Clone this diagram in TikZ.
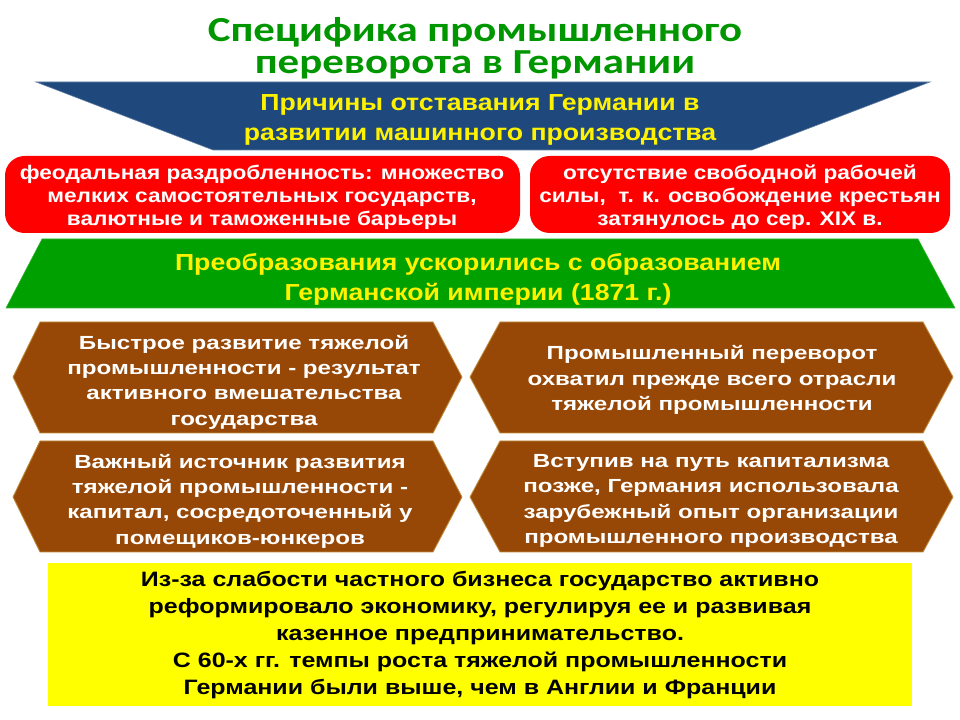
\documentclass[tikz,border=0pt]{standalone}
\usepackage{fontspec}
\setmainfont{Liberation Sans}
\newfontfamily\titlefont[FakeStretch=1.22]{Carlito}
\newfontfamily\bandfont[FakeStretch=1.15]{Liberation Sans}
\newfontfamily\notefont[FakeStretch=1.2]{Liberation Sans}
\newfontfamily\hexfont[FakeStretch=1.27]{Liberation Sans}
\usepackage{xcolor}

\definecolor{titlegreen}{RGB}{0,150,0}
\definecolor{bandblue}{RGB}{31,73,125}
\definecolor{bandgreen}{RGB}{0,160,0}
\definecolor{boxred}{RGB}{255,0,0}
\definecolor{hexbrown}{RGB}{152,72,6}
\definecolor{hexedge}{RGB}{190,140,60}
\definecolor{noteyellow}{RGB}{255,255,0}

\tikzset{
	bandtext/.style={text=yellow,align=center,font=\bandfont\bfseries\fontsize{16.5}{21.3}\selectfont},
	redtext/.style={text=white,align=center,font=\bandfont\bfseries\fontsize{14}{16.3}\selectfont},
	hextext/.style={text=white,align=center,font=\hexfont\bfseries\fontsize{13.5}{18}\selectfont},
	hexshape/.style={fill=hexbrown,draw=hexedge,line width=0.6pt},
}

\begin{document}
\begin{tikzpicture}[x=0.025cm,y=-0.025cm]
	\useasboundingbox (0,0) rectangle (960,720);
	\fill[white] (0,0) rectangle (960,720);
	
	% title
	\node[text=titlegreen,align=center,font=\titlefont\bfseries\fontsize{25}{22.7}\selectfont] (title) at (475,48) {Специфика промышленного\\переворота в Германии};
	
	% blue band
	\filldraw[fill=bandblue,draw=bandblue!70] (36,82) -- (930,82) -- (752,150) -- (213,150) -- cycle;
	\node[bandtext] (causes) at (480,120) {Причины отставания Германии в\\развитии машинного производства};
	
	% red boxes
	\fill[boxred,rounded corners=14] (5,156) rectangle (520,233);
	\node[redtext] (split) at (262,197) {феодальная раздробленность: множество\\мелких самостоятельных государств,\\валютные и таможенные барьеры};
	\fill[boxred,rounded corners=14] (530,156) rectangle (950,233);
	\node[redtext] (labour) at (740,197) {отсутствие свободной рабочей\\силы,~ т. к. освобождение крестьян\\затянулось до сер. XIX в.};
	
	% green band
	\filldraw[fill=bandgreen,draw=bandgreen!80!white] (42,239) -- (918,239) -- (955,308) -- (6,308) -- cycle;
	\node[bandtext] (empire) at (478,279) {Преобразования ускорились с образованием\\Германской империи (1871 г.)};
	
	% brown hexagons
	\filldraw[hexshape] (13,377) -- (40,322) -- (433,322) -- (462,377) -- (433,433) -- (40,433) -- cycle;
	\node[hextext] (heavy) at (244,382) {Быстрое развитие тяжелой\\промышленности - результат\\активного вмешательства\\государства};
	\filldraw[hexshape] (470,377) -- (500,322) -- (923,322) -- (953,377) -- (923,433) -- (500,433) -- cycle;
	\node[hextext] (branches) at (712,380) {Промышленный переворот\\охватил прежде всего отрасли\\тяжелой промышленности};
	\filldraw[hexshape] (13,497) -- (40,441) -- (433,441) -- (462,497) -- (433,552) -- (40,552) -- cycle;
	\node[hextext] (junkers) at (240,501) {Важный источник развития\\тяжелой промышленности -\\капитал, сосредоточенный у\\помещиков-юнкеров};
	\filldraw[hexshape] (470,497) -- (500,441) -- (923,441) -- (953,497) -- (923,552) -- (500,552) -- cycle;
	\node[hextext] (foreign) at (711,501) {Вступив на путь капитализма\\позже, Германия использовала\\зарубежный опыт организации\\промышленного производства};
	
	% yellow note
	\fill[noteyellow] (48,563) rectangle (912,706);
	\node[align=center,font=\notefont\bfseries\fontsize{14.8}{19.2}\selectfont] (state) at (480,635) {Из-за слабости частного бизнеса государство активно\\реформировало экономику, регулируя ее и развивая\\казенное предпринимательство.\\С 60-х гг. темпы роста тяжелой промышленности\\Германии были выше, чем в Англии и Франции};
\end{tikzpicture}
\end{document}
